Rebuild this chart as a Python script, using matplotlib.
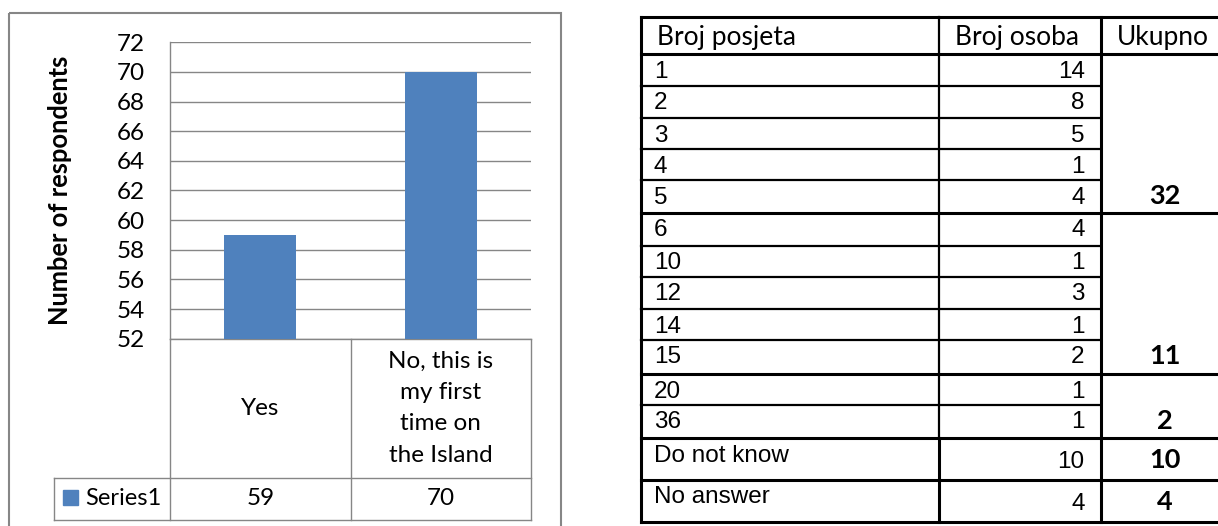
import matplotlib
matplotlib.use("Agg")
import matplotlib.pyplot as plt
from matplotlib.transforms import blended_transform_factory
from matplotlib.patches import Rectangle

# ---------------- data ----------------
categories = ["Yes", "No, this is\nmy first\ntime on\nthe Island"]
series_name = "Series1"
values = [59, 70]
y_ticks = [52, 54, 56, 58, 60, 62, 64, 66, 68, 70, 72]
y_label = "Number of respondents"

table_header = ["Broj posjeta", "Broj osoba", "Ukupno"]
visits = ["1", "2", "3", "4", "5", "6", "10", "12", "14", "15", "20", "36",
          "Do not know", "No answer"]
persons = [14, 8, 5, 1, 4, 4, 1, 3, 1, 2, 1, 1, 10, 4]
group_rows = [5, 5, 2, 1, 1]          # rows per merged "Ukupno" cell
group_totals = [32, 11, 2, 10, 4]

# ---------------- style ----------------
W, H = 1218, 526
CAL = ["Lato", "DejaVu Sans"]
ARI = ["Liberation Sans", "DejaVu Sans"]
GRAY = "#868686"
BLUE = "#4F81BD"

fig = plt.figure(figsize=(W / 100, H / 100), dpi=100)
fig.patch.set_facecolor("white")

ov = fig.add_axes([0, 0, 1, 1], zorder=5)
ov.set_xlim(0, W)
ov.set_ylim(H, 0)
ov.axis("off")
ov.patch.set_alpha(0)

# ---------------- left chart ----------------
pl, pr, pt, pb = 170, 531, 42.3, 338.7
ax = fig.add_axes([pl / W, 1 - pb / H, (pr - pl) / W, (pb - pt) / H])
ax.bar(range(len(values)), values, width=0.4, color=BLUE, zorder=3)
ax.set_xlim(-0.5, len(values) - 0.5)
ax.set_ylim(y_ticks[0], y_ticks[-1])
ax.set_yticks(y_ticks)
ax.set_xticks([])
ax.yaxis.grid(True, color=GRAY, linewidth=1.0, zorder=0)
ax.set_axisbelow(True)
for s in ["top", "right"]:
    ax.spines[s].set_visible(False)
for s in ["left", "bottom"]:
    ax.spines[s].set_color(GRAY)
    ax.spines[s].set_linewidth(1.0)
ax.tick_params(axis="y", length=0, pad=18, labelsize=17.5, labelcolor="black")
for lab in ax.get_yticklabels():
    lab.set_fontfamily(CAL)
ax.set_ylabel(y_label, fontsize=18.4, fontweight="bold", family=CAL, labelpad=32)

# outer chart border
ov.add_patch(Rectangle((9, 12.7), 552, 530, fill=False, edgecolor=GRAY, linewidth=1.5))

# data table under the chart
row1_bot, row2_bot, tab_left = 477.7, 519.5, 54
tx = blended_transform_factory(ax.transData, ov.transData)
bounds = [-0.5 + i for i in range(len(values) + 1)]
for b in bounds:
    ov.plot([b, b], [pb, row2_bot], color=GRAY, lw=1.0, transform=tx, clip_on=False)
ov.plot([tab_left, pr], [row1_bot, row1_bot], color=GRAY, lw=1.0)
ov.plot([tab_left, pr], [row2_bot, row2_bot], color=GRAY, lw=1.0)
ov.plot([tab_left, tab_left], [row1_bot, row2_bot], color=GRAY, lw=1.0)
for i, (c, v) in enumerate(zip(categories, values)):
    ov.text(i, (pb + row1_bot) / 2, c, transform=tx, ha="center", va="center",
            fontsize=17.5, family=CAL, linespacing=1.6)
    ov.text(i, (row1_bot + row2_bot) / 2, str(v), transform=tx, ha="center",
            va="center", fontsize=17.5, family=CAL)
ov.add_patch(Rectangle((63, 490), 15, 15, color=BLUE))
ov.text(85, (row1_bot + row2_bot) / 2, series_name, ha="left", va="center",
        fontsize=17, family=CAL)

# ---------------- right table ----------------
cx = [641, 938.7, 1100.7, 1226]
hdr_top, hdr_bot = 16.7, 54.3
row_lines = [54.3, 85.7, 118.3, 149.3, 180.3, 212.7, 245.7, 276.7, 309.3,
             340, 374.3, 405, 438.3, 480, 521.7]
THICK, THIN = 2.2, 1.6

# header
ov.plot([cx[0], cx[-1]], [hdr_top, hdr_top], color="black", lw=THICK, solid_capstyle="projecting")
ov.plot([cx[0], cx[-1]], [hdr_bot, hdr_bot], color="black", lw=THICK)
for j, h in enumerate(table_header):
    ov.text(cx[j] + 16, hdr_top + 28.3, h, ha="left", va="baseline",
            fontsize=19, family=CAL)

# group boundaries
group_end = []
acc = 0
for n in group_rows:
    acc += n
    group_end.append(acc)
for i in range(1, len(row_lines)):
    y = row_lines[i]
    if i in group_end:
        ov.plot([cx[0], cx[-1]], [y, y], color="black", lw=THICK)
    else:
        ov.plot([cx[0], cx[2]], [y, y], color="black", lw=THIN)

# vertical lines
ov.plot([cx[0], cx[0]], [hdr_top, row_lines[-1]], color="black", lw=THICK, solid_capstyle="projecting")
ov.plot([cx[1], cx[1]], [hdr_top, row_lines[-3]], color="black", lw=THIN)
ov.plot([cx[1], cx[1]], [row_lines[-3], row_lines[-1]], color="black", lw=THICK)
ov.plot([cx[2], cx[2]], [hdr_top, row_lines[-1]], color="black", lw=THICK)
ov.plot([cx[-1], cx[-1]], [hdr_top, row_lines[-1]], color="black", lw=THICK)

for i, (v, p) in enumerate(zip(visits, persons)):
    top, bot = row_lines[i], row_lines[i + 1]
    ov.text(cx[0] + 13, top + 23.4, v, ha="left", va="baseline", fontsize=17.5, family=ARI)
    nb = top + 23.4 if bot - top < 38 else bot - 11.7
    ov.text(cx[2] - 16, nb, str(p), ha="right", va="baseline", fontsize=17.5, family=ARI)

start = 0
for n, t in zip(group_rows, group_totals):
    last = start + n - 1
    top, bot = row_lines[last], row_lines[last + 1]
    nb = top + 23.7 if bot - top < 38 else bot - 11.7
    ov.text(1164.7, nb, str(t), ha="center", va="baseline", fontsize=19.5,
            fontweight="bold", family=CAL)
    start += n

fig.savefig("out.png", dpi=100, facecolor="white")
